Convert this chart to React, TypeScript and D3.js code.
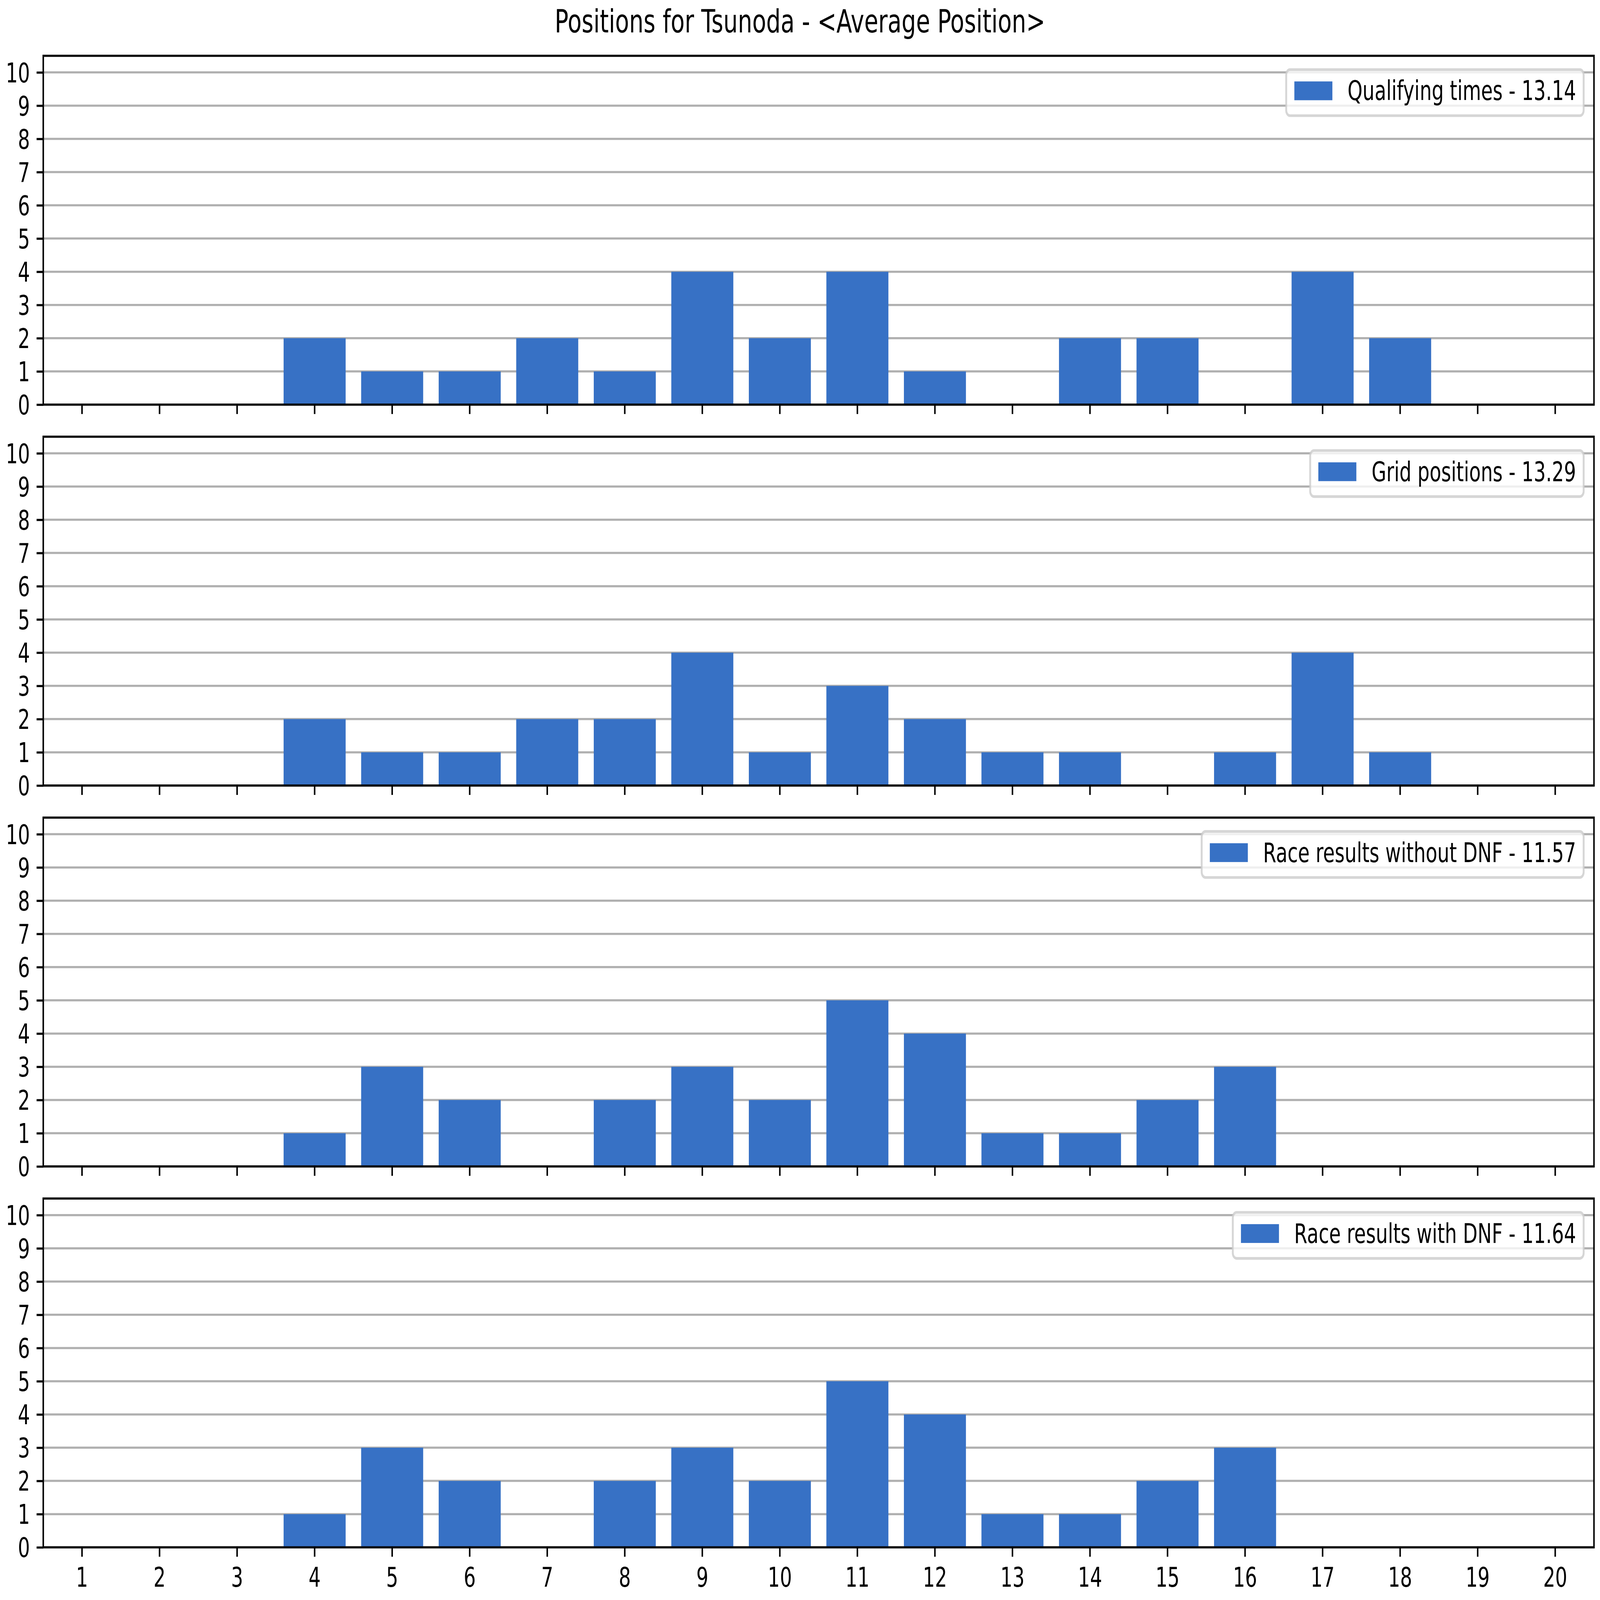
import React, { useRef, useEffect } from 'react';
import * as d3 from 'd3';

// figure is A4 landscape at 500 dpi -> 1pt = 500/72 px
const WIDTH = 5845;
const HEIGHT = 4135;
const PT = 500 / 72;

const positions = [1, 2, 3, 4, 5, 6, 7, 8, 9, 10, 11, 12, 13, 14, 15, 16, 17, 18, 19, 20];
const yTicks = [0, 1, 2, 3, 4, 5, 6, 7, 8, 9, 10];

const qualifyingCounts = [0, 0, 0, 2, 1, 1, 2, 1, 4, 2, 4, 1, 0, 2, 2, 0, 4, 2, 0, 0];
const gridCounts = [0, 0, 0, 2, 1, 1, 2, 2, 4, 1, 3, 2, 1, 1, 0, 1, 4, 1, 0, 0];
const raceNoDnfCounts = [0, 0, 0, 1, 3, 2, 0, 2, 3, 2, 5, 4, 1, 1, 2, 3, 0, 0, 0, 0];
const raceDnfCounts = [0, 0, 0, 1, 3, 2, 0, 2, 3, 2, 5, 4, 1, 1, 2, 3, 0, 0, 0, 0];

const panelLabels = [
    'Qualifying times - 13.14',
    'Grid positions - 13.29',
    'Race results without DNF - 11.57',
    'Race results with DNF - 11.64',
];
const panelCounts = [qualifyingCounts, gridCounts, raceNoDnfCounts, raceDnfCounts];

const title = 'Positions for Tsunoda - <Average Position>';

const barColor = '#3771c5';
const gridColor = '#b0b0b0';
const font = '"DejaVu Sans", sans-serif';

const App: React.FC = () => {
    const svgRef = useRef<SVGSVGElement | null>(null);

    useEffect(() => {
        document.body.style.margin = '0';
        document.documentElement.style.overflow = 'hidden';
        if (!svgRef.current) return;
        const svg = d3.select(svgRef.current);
        svg.selectAll('*').remove();

        svg.append('rect')
            .attr('width', WIDTH)
            .attr('height', HEIGHT)
            .attr('fill', 'white');

        const left = 158;
        const right = 5823;
        const firstTop = 144.2;
        const panelHeight = 901.5;
        const panelStep = 984.4;
        const tickFont = 10 * PT;
        const lw = 0.8 * PT;

        svg.append('text')
            .attr('x', WIDTH / 2)
            .attr('y', 84)
            .attr('text-anchor', 'middle')
            .attr('font-family', font)
            .attr('font-size', 12 * PT)
            .attr('fill', 'black')
            .text(title);

        const x = d3
            .scaleBand<number>()
            .domain(positions)
            .range([left, right])
            .paddingInner(0.2)
            .paddingOuter(0.1);

        panelCounts.forEach((counts, i) => {
            const top = firstTop + i * panelStep;
            const bottom = top + panelHeight;
            const isLast = i === panelCounts.length - 1;

            const y = d3.scaleLinear().domain([0, 10.5]).range([bottom, top]);

            const g = svg.append('g');

            // horizontal grid
            g.append('g')
                .selectAll('line')
                .data(yTicks)
                .enter()
                .append('line')
                .attr('x1', left)
                .attr('x2', right)
                .attr('y1', (d) => y(d))
                .attr('y2', (d) => y(d))
                .attr('stroke', gridColor)
                .attr('stroke-width', lw);

            // bars
            const data = positions.map((p, k) => ({ pos: p, value: counts[k] }));
            g.append('g')
                .selectAll('rect')
                .data(data.filter((d) => d.value > 0))
                .enter()
                .append('rect')
                .attr('x', (d) => x(d.pos)!)
                .attr('width', x.bandwidth())
                .attr('y', (d) => y(d.value))
                .attr('height', (d) => y(0) - y(d.value))
                .attr('fill', barColor);

            // y axis
            const yAxis = g
                .append('g')
                .attr('transform', `translate(${left},0)`)
                .call(
                    d3
                        .axisLeft(y)
                        .tickValues(yTicks)
                        .tickFormat(d3.format('d'))
                        .tickSize(3.5 * PT)
                        .tickSizeOuter(0)
                        .tickPadding(3.5 * PT),
                );
            yAxis.select('.domain').remove();
            yAxis.selectAll('.tick line')
                .attr('stroke', 'black')
                .attr('stroke-width', lw);
            yAxis.selectAll('.tick text')
                .attr('font-family', font)
                .attr('font-size', tickFont)
                .attr('fill', 'black')
                .attr('dy', '0.36em');

            // x axis
            const xAxis = g
                .append('g')
                .attr('transform', `translate(0,${bottom})`)
                .call(
                    d3
                        .axisBottom(x)
                        .tickSize(3.5 * PT)
                        .tickSizeOuter(0)
                        .tickPadding(3.5 * PT),
                );
            xAxis.select('.domain').remove();
            xAxis.selectAll('.tick line')
                .attr('stroke', 'black')
                .attr('stroke-width', lw);
            if (isLast) {
                xAxis.selectAll('.tick text')
                    .attr('font-family', font)
                    .attr('font-size', tickFont)
                    .attr('fill', 'black')
                    .attr('dy', '0.76em');
            } else {
                xAxis.selectAll('.tick text').remove();
            }

            // spines
            g.append('rect')
                .attr('x', left)
                .attr('y', top)
                .attr('width', right - left)
                .attr('height', panelHeight)
                .attr('fill', 'none')
                .attr('stroke', 'black')
                .attr('stroke-width', lw);

            // legend, upper right
            const legend = g.append('g');
            const box = legend
                .append('rect')
                .attr('rx', 0.2 * tickFont)
                .attr('ry', 0.2 * tickFont)
                .attr('fill', 'white')
                .attr('fill-opacity', 0.8)
                .attr('stroke', '#cccccc')
                .attr('stroke-opacity', 0.8)
                .attr('stroke-width', 1 * PT);
            const label = legend
                .append('text')
                .attr('font-family', font)
                .attr('font-size', tickFont)
                .attr('fill', 'black')
                .text(panelLabels[i]);
            const textWidth = (label.node() as SVGTextElement).getComputedTextLength();

            const pad = 0.4 * tickFont;
            const handleW = 2.0 * tickFont;
            const handleH = 0.7 * tickFont;
            const textPad = 0.8 * tickFont;
            const boxRight = right - 0.5 * tickFont - 3;
            const boxTop = top + 0.5 * tickFont + 1;
            const boxW = pad * 2 + handleW + textPad + textWidth + 2;
            const boxH = 119;
            const boxLeft = boxRight - boxW;

            box.attr('x', boxLeft)
                .attr('y', boxTop)
                .attr('width', boxW)
                .attr('height', boxH);
            legend
                .append('rect')
                .attr('x', boxLeft + pad + 2)
                .attr('y', boxTop + 30.5)
                .attr('width', handleW)
                .attr('height', handleH)
                .attr('fill', barColor);
            label
                .attr('x', boxLeft + pad + 2 + handleW + textPad)
                .attr('y', boxTop + 79);
        });
    }, []);

    // the browser window is capped below the requested size, so the
    // figure is fitted to whatever viewport it gets
    return (
        <svg
            ref={svgRef}
            viewBox={`0 0 ${WIDTH} ${HEIGHT}`}
            preserveAspectRatio="none"
            style={{ display: 'block', width: '100vw', height: '100vh' }}
        ></svg>
    );
};

export default App;
